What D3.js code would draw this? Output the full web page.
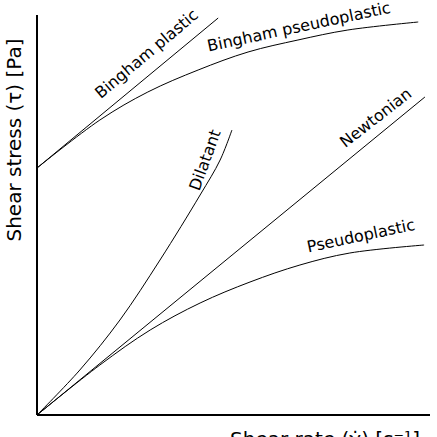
<!DOCTYPE html><html><head><script src="https://cdn.jsdelivr.net/npm/d3@7"></script>
<style>body{margin:0;background:#fff}text{font-family:"DejaVu Sans";}</style></head><body><svg width="437" height="437"></svg>
<script>
const binghamPlasticX=[0,46.1], binghamPlasticY=[61.75,99.25];
const binghamPseudoX=[0,16,28.2,41,53.7,66.4,79.1,97], binghamPseudoY=[61.75,73.75,80.75,86.25,90.75,93.75,96.25,98.25];
const dilatantX=[0,10.9,21.1,31.3,41.5,46.6,49.6], dilatantY=[0,11.25,23.75,38.75,55,63.75,71.25];
const newtonianX=[0,98.7], newtonianY=[0,79.5];
const pseudoX=[0,16,28.8,41.5,54.2,66.9,79.6,98.5], pseudoY=[0,12.5,21.25,28,33.25,37.5,40.5,42.5];
const labels=["Bingham plastic","Bingham pseudoplastic","Dilatant","Newtonian","Pseudoplastic"];
const svg=d3.select("svg");
const x=d3.scaleLinear().domain([0,100]).range([37,430]);
const y=d3.scaleLinear().domain([0,100]).range([415,15]);
svg.append("line").attr("x1",37).attr("x2",37).attr("y1",y(100)).attr("y2",y(0)).attr("stroke","#000").attr("stroke-width",2);
svg.append("line").attr("x1",37).attr("x2",x(100)).attr("y1",y(0)).attr("y2",y(0)).attr("stroke","#000").attr("stroke-width",2);
const line=d3.line().x(d=>x(d[0])).y(d=>y(d[1])).curve(d3.curveCatmullRom);
[[binghamPlasticX,binghamPlasticY],[binghamPseudoX,binghamPseudoY],[dilatantX,dilatantY],[newtonianX,newtonianY],[pseudoX,pseudoY]].forEach(([xs,ys])=>{
 svg.append("path").attr("d",line(xs.map((v,i)=>[v,ys[i]]))).attr("fill","none").attr("stroke","#000").attr("stroke-width",1);
});
const pos=[[150,58,-40],[300,32,-12],[210,162,-70],[379,122,-38],[362,241,-12]];
labels.forEach((t,i)=>svg.append("text").attr("transform",`translate(${pos[i][0]},${pos[i][1]}) rotate(${pos[i][2]})`).attr("text-anchor","middle").attr("font-size",16).text(t));
svg.append("text").attr("transform","translate(21,140) rotate(-90)").attr("text-anchor","middle").attr("font-size",20).text("Shear stress (τ) [Pa]");
svg.append("text").attr("x",325).attr("y",446).attr("text-anchor","middle").attr("font-size",20).text("Shear rate (γ̇) [s⁻¹]");
</script></body></html>
